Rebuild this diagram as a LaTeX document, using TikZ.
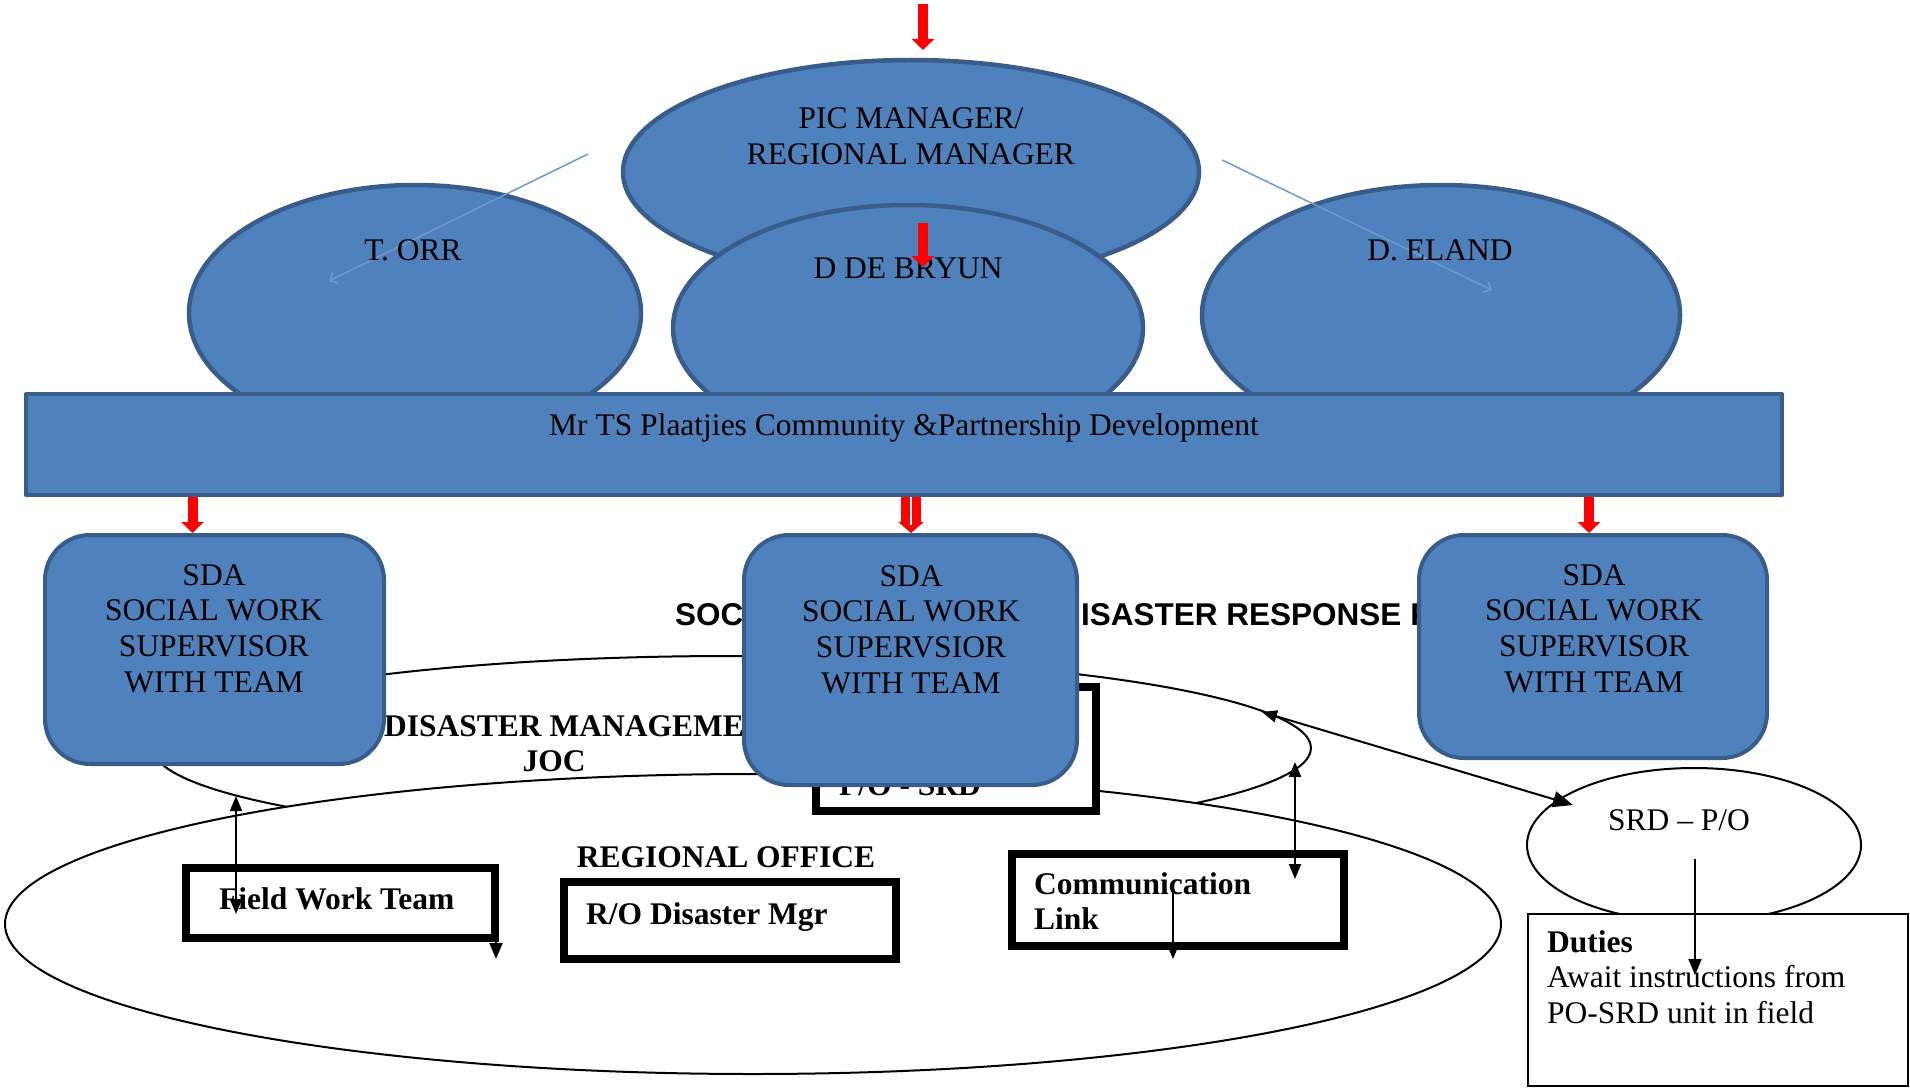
\documentclass[tikz,border=0pt]{standalone}
\usepackage{fontspec}
\setmainfont{Liberation Serif}
\newfontfamily\titlesans{Liberation Sans}
\usetikzlibrary{shapes.geometric,arrows.meta}
\definecolor{blobfill}{HTML}{4F81BD}
\definecolor{blobedge}{HTML}{385D8A}
\definecolor{linkblue}{HTML}{6A9AD0}

\begin{document}
\begin{tikzpicture}[x=1pt, y=-1pt, line join=round,
  blob/.style={ellipse, draw=blobedge, fill=blobfill, line width=4.5pt, inner sep=0pt},
  sdabox/.style={rectangle, rounded corners=45pt, draw=blobedge, fill=blobfill, line width=4pt, inner sep=0pt},
  ring/.style={ellipse, draw=black, fill=white, line width=2pt, inner sep=0pt},
  heavybox/.style={rectangle, draw=black, fill=white, line width=8pt, line join=miter, inner sep=0pt},
  txt/.style={inner sep=0pt, font=\fontsize{31.5}{35.7}\selectfont},
  txtb/.style={inner sep=0pt, font=\fontsize{31.5}{35.7}\selectfont\bfseries},
  redarr/.style={draw=red, line width=10pt, -{Triangle[width=22pt,length=11pt]}},
  blkarr/.style={line width=2pt, -{Triangle[width=13pt,length=16pt]}},
  dblarr/.style={line width=2pt, {Triangle[width=12pt,length=15pt]}-{Triangle[width=12pt,length=15pt]}},
  thinlink/.style={draw=linkblue, line width=1.5pt, -{Straight Barb[width=12pt,length=6pt]}}]

  %% ════ 上半部：蓝色椭圆 ════
  \node[blob, minimum width=576pt, minimum height=224pt] (pic) at (911,172) {};
  \node[blob, minimum width=452pt, minimum height=256pt] (torr) at (415,313) {};
  \node[blob, minimum width=478pt, minimum height=260pt] (eland) at (1441,315) {};
  \node[blob, minimum width=470pt, minimum height=246pt] (debryun) at (908,328) {};

  %% ════ 细蓝连线（起点在椭圆外）════
  \coordinate (picL) at (588,154);  \coordinate (torrIn) at (329,281);
  \coordinate (picR) at (1222,160); \coordinate (elandIn) at (1492,290);
  \draw[thinlink] (picL) -- (torrIn);
  \draw[thinlink] (picR) -- (elandIn);

  %% ════ 椭圆文字 ════
  \node[txt, align=center] (pictxt) at (911,136) {PIC MANAGER/\\REGIONAL MANAGER};
  \node[txt, anchor=base] (torrtxt) at (413,260) {T. ORR};
  \node[txt, anchor=base] (debryuntxt) at (908,278) {D DE BRYUN};
  \node[txt, anchor=base] (elandtxt) at (1440,260) {D. ELAND};

  %% ════ 横条 ════
  \node[sdabox, rounded corners=0pt, minimum width=1756pt, minimum height=101pt] (bar) at (904,444.5) {};
  \node[txt, anchor=base] (bartxt) at (904,435) {Mr TS Plaatjies Community \&Partnership Development};

  %% ════ 红色箭头（上）════
  \coordinate (inTop) at (923,4);   \coordinate (inTopEnd) at (923,50);
  \coordinate (midIn) at (923,223); \coordinate (midInEnd) at (923,267);
  \draw[redarr] (inTop) -- (inTopEnd);
  \draw[redarr] (midIn) -- (midInEnd);

  %% ════ 下半部：JOC 椭圆与标题 ════
  \node[ring, minimum width=1158pt, minimum height=184pt] (joc) at (732,748) {};
  \node[txt, font=\titlesans\bfseries\fontsize{31.5}{36}\selectfont, anchor=base west] (ttlA) at (675,625) {SOC};
  \node[txt, font=\titlesans\bfseries\fontsize{31.5}{36}\selectfont, anchor=base west] (ttlB) at (1081,625) {ISASTER RESPONSE P};
  \node[txtb, anchor=base west] (joctxtA) at (384,736) {DISASTER MANAGEMENT};
  \node[txtb, anchor=base] (joctxtB) at (554,771) {JOC};

  %% ════ 区域办公室大椭圆 ════
  \node[ring, minimum width=1496pt, minimum height=300pt] (regional) at (753,924) {};
  \node[heavybox, minimum width=280pt, minimum height=124pt] (posrd) at (956,749) {};
  \node[txtb, anchor=base west] (posrdtxt) at (839,795) {P/O - SRD};

  %% ════ SDA 圆角框 ════
  \node[sdabox, minimum width=339pt, minimum height=229pt] (sdaL) at (214.5,649.5) {};
  \node[sdabox, minimum width=333pt, minimum height=250pt] (sdaM) at (910.5,660) {};
  \node[sdabox, minimum width=348pt, minimum height=223pt] (sdaR) at (1593,646.5) {};
  \node[txt, align=center] (sdaLtxt) at (214,628.5) {SDA\\SOCIAL WORK\\SUPERVISOR\\WITH TEAM};
  \node[txt, align=center] (sdaMtxt) at (911,629.5) {SDA\\SOCIAL WORK\\SUPERVSIOR\\WITH TEAM};
  \node[txt, align=center] (sdaRtxt) at (1594,628.5) {SDA\\SOCIAL WORK\\SUPERVISOR\\WITH TEAM};

  %% ════ 红色箭头（横条 → SDA）════
  \coordinate (arrL) at (192.5,497); \coordinate (arrR) at (1589,497); \coordinate (arrM) at (911,497);
  \draw[redarr] (arrL) -- (arrL |- sdaL.north);
  \draw[redarr] (arrR) -- (arrR |- sdaR.north);
  \draw[redarr, line width=20pt, -{Triangle[width=25pt,length=11pt]}] (arrM) -- (arrM |- sdaM.north);
  \draw[white, line width=1.2pt] (arrM) -- ++(0,28);

  %% ════ 办公室内的方框 ════
  \node[heavybox, minimum width=309pt, minimum height=70pt] (fieldwork) at (340.5,903) {};
  \node[txtb, anchor=base west] (fieldworktxt) at (219,909) {Field Work Team};
  \node[txtb, anchor=base] (regionaltxt) at (726,867) {REGIONAL OFFICE};
  \node[heavybox, minimum width=332pt, minimum height=77pt] (romgr) at (730,920.5) {};
  \node[txtb, anchor=base west] (romgrtxt) at (586,924) {R/O Disaster Mgr};
  \node[heavybox, minimum width=332pt, minimum height=92pt] (commlink) at (1178,900) {};
  \node[txtb, align=left, anchor=west] (commlinktxt) at (1034,901) {Communication\\Link};

  %% ════ SRD 椭圆与 Duties 框 ════
  \node[ring, minimum width=334pt, minimum height=154pt] (srdpo) at (1694,845) {};
  \node[txt, anchor=base] (srdpotxt) at (1679,830) {SRD – P/O};
  \node[rectangle, draw=black, fill=white, line width=2pt, line join=miter, inner sep=0pt,
        minimum width=380pt, minimum height=172pt] (duties) at (1718,1000) {};
  \node[txt, align=left, anchor=west] (dutiestxt) at (1547,977)
        {\textbf{Duties}\\Await instructions from\\PO-SRD unit in field};

  %% ════ 黑色箭头 ════
  \coordinate (fwUp) at (236,796);   \coordinate (fwDn) at (236,914);
  \coordinate (fwOut) at (496,959);
  \coordinate (clUp) at (1295,762);  \coordinate (clDn) at (1295,879);
  \coordinate (clIn) at (1173,892);  \coordinate (clOut) at (1173,959);
  \coordinate (jocTip) at (1262,712); \coordinate (srdTip) at (1573,805);
  \coordinate (srdFrom) at (1695,859); \coordinate (srdDn) at (1695,975);
  \draw[dblarr] (fwUp) -- (fwDn);
  \draw[blkarr] (fieldwork.south -| fwOut) -- (fwOut);
  \draw[dblarr] (clUp) -- (clDn);
  \draw[blkarr] (clIn) -- (clOut);
  \draw[line width=2pt, {Triangle[width=12pt,length=15pt]}-{Triangle[width=16pt,length=20pt]}] (jocTip) -- (srdTip);
  \draw[blkarr] (srdFrom) -- (srdDn);

  % 钉死画布
  \pgfresetboundingbox
  \path[use as bounding box] (0,0) rectangle (1910,1089);
\end{tikzpicture}
\end{document}
